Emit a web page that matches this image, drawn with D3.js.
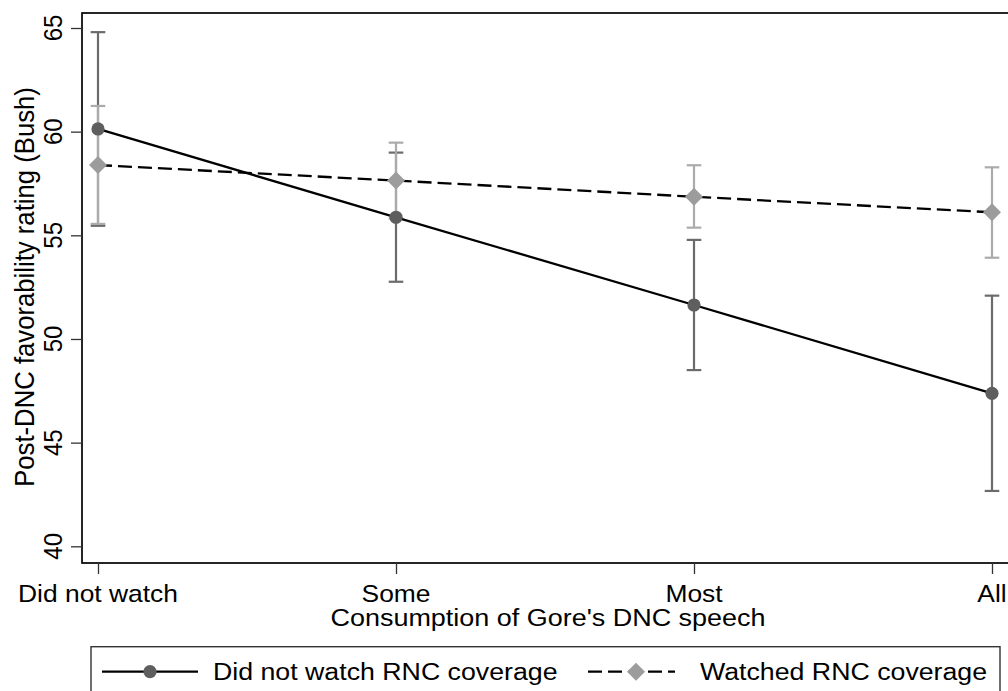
<!DOCTYPE html>
<html>
<head>
<meta charset="utf-8">
<script src="https://cdn.jsdelivr.net/npm/d3@7"></script>
<style>
  html, body { margin: 0; padding: 0; background: #fff; }
  svg { display: block; }
  text { font-family: "Liberation Sans", Arial, Helvetica, sans-serif; fill: #000; }
</style>
</head>
<body>
<svg id="chart" width="1008" height="691"></svg>
<script>
const categories = ["Did not watch", "Some", "Most", "All"];
const seriesNames = ["Did not watch RNC coverage", "Watched RNC coverage"];
const notWatchedMean = [60.13, 55.87, 51.64, 47.38];
const notWatchedLow  = [55.46, 52.76, 48.50, 42.67];
const notWatchedHigh = [64.80, 58.99, 54.78, 52.09];
const watchedMean = [58.39, 57.64, 56.86, 56.11];
const watchedLow  = [55.55, 55.81, 55.37, 53.92];
const watchedHigh = [61.24, 59.47, 58.38, 58.28];
const yTicks = [40, 45, 50, 55, 60, 65];
const xTitle = "Consumption of Gore's DNC speech";
const yTitle = "Post-DNC favorability rating (Bush)";

const SX = 1.1;          // horizontal stretch of the reference text
const FS = 24;
const svg = d3.select("#chart");

const plot = { left: 82, top: 13, right: 1010, bottom: 563 };
const x = d3.scalePoint().domain(categories).range([98, 992]);
const y = d3.scaleLinear().domain([40, 65]).range([546.3, 28]);

const cols = {
  darkBar: "#6b6b6b", darkMark: "#5e5e5e",
  lightBar: "#ababab", lightMark: "#9c9c9c"
};

// plot frame
svg.append("rect")
  .attr("x", plot.left).attr("y", plot.top)
  .attr("width", plot.right - plot.left).attr("height", plot.bottom - plot.top)
  .attr("fill", "none").attr("stroke", "#000").attr("stroke-width", 1.7);

// y axis
const yAxis = svg.append("g").attr("transform", `translate(${plot.left},0)`)
  .call(d3.axisLeft(y).tickValues(yTicks).tickSize(11).tickSizeOuter(0));
yAxis.select(".domain").remove();
yAxis.selectAll(".tick line").attr("stroke", "#333").attr("stroke-width", 1.3);
yAxis.selectAll(".tick text").remove();
yTicks.forEach(v => {
  svg.append("text")
    .attr("transform", `translate(61.5,${y(v)}) scale(${SX},1) rotate(-90)`)
    .attr("text-anchor", "middle")
    .style("font-size", FS + "px")
    .text(v);
});

// x axis
const xAxis = svg.append("g").attr("transform", `translate(0,${plot.bottom})`)
  .call(d3.axisBottom(x).tickSize(11).tickSizeOuter(0));
xAxis.select(".domain").remove();
xAxis.selectAll(".tick line").attr("stroke", "#333").attr("stroke-width", 1.3);
xAxis.selectAll(".tick text").remove();
categories.forEach(c => {
  svg.append("text")
    .attr("transform", `translate(${x(c)},601.5) scale(${SX},1)`)
    .attr("text-anchor", "middle")
    .style("font-size", FS + "px")
    .text(c);
});

// axis titles
svg.append("text")
  .attr("transform", `translate(${(plot.left + plot.right) / 2 + 2},626) scale(${SX},1)`)
  .attr("text-anchor", "middle").style("font-size", "24.5px").text(xTitle);
svg.append("text")
  .attr("transform", `translate(33.5,287) scale(${SX},1) rotate(-90)`)
  .attr("text-anchor", "middle").style("font-size", "25.7px").text(yTitle);

// error bars
function errorBars(lo, hi, color) {
  const g = svg.append("g").attr("stroke", color).attr("stroke-width", 2.2).attr("fill", "none");
  categories.forEach((c, i) => {
    const cx = x(c);
    g.append("line").attr("x1", cx).attr("x2", cx).attr("y1", y(lo[i])).attr("y2", y(hi[i]));
    g.append("line").attr("x1", cx - 7.3).attr("x2", cx + 7.3).attr("y1", y(lo[i])).attr("y2", y(lo[i]));
    g.append("line").attr("x1", cx - 7.3).attr("x2", cx + 7.3).attr("y1", y(hi[i])).attr("y2", y(hi[i]));
  });
}
errorBars(notWatchedLow, notWatchedHigh, cols.darkBar);
errorBars(watchedLow, watchedHigh, cols.lightBar);

// lines
const line = d3.line().x((d, i) => x(categories[i])).y(d => y(d));
svg.append("path").datum(notWatchedMean).attr("d", line)
  .attr("fill", "none").attr("stroke", "#000").attr("stroke-width", 2.3);
svg.append("path").datum(watchedMean).attr("d", line)
  .attr("fill", "none").attr("stroke", "#000").attr("stroke-width", 2.3)
  .attr("stroke-dasharray", "14,6");

// markers
const circleSym = d3.symbol().type(d3.symbolCircle).size(Math.PI * 6.6 * 6.6);
const diamondPath = s => `M0,${-s}L${s},0L0,${s}L${-s},0Z`;
svg.selectAll(".dot").data(notWatchedMean).enter().append("path")
  .attr("transform", (d, i) => `translate(${x(categories[i])},${y(d)})`)
  .attr("d", circleSym()).attr("fill", cols.darkMark);
svg.selectAll(".dia").data(watchedMean).enter().append("path")
  .attr("transform", (d, i) => `translate(${x(categories[i])},${y(d)})`)
  .attr("d", diamondPath(9)).attr("fill", cols.lightMark);

// legend
const lg = svg.append("g");
lg.append("rect").attr("x", 91).attr("y", 646.7).attr("width", 909).attr("height", 52)
  .attr("fill", "#fff").attr("stroke", "#333").attr("stroke-width", 1.4);
const ly = 671.7;
lg.append("line").attr("x1", 102).attr("x2", 198).attr("y1", ly).attr("y2", ly)
  .attr("stroke", "#000").attr("stroke-width", 2.3);
lg.append("path").attr("transform", `translate(150,${ly})`).attr("d", circleSym()).attr("fill", cols.darkMark);
lg.append("text").attr("transform", `translate(213,${ly + 8.6}) scale(${SX},1)`)
  .style("font-size", "24.3px").text(seriesNames[0]);
lg.append("line").attr("x1", 588).attr("x2", 675).attr("y1", ly).attr("y2", ly)
  .attr("stroke", "#000").attr("stroke-width", 2.3).attr("stroke-dasharray", "14,6");
lg.append("path").attr("transform", `translate(636,${ly})`).attr("d", diamondPath(9)).attr("fill", cols.lightMark);
lg.append("text").attr("transform", `translate(700,${ly + 8.6}) scale(${SX},1)`)
  .style("font-size", "24.3px").text(seriesNames[1]);
</script>
</body>
</html>
